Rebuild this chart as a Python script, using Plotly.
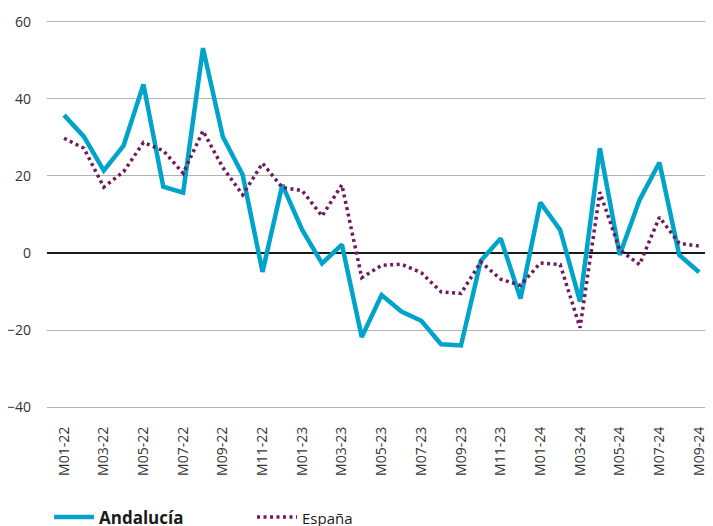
import plotly.graph_objects as go

months = [f"M{m:02d}-{y}" for y in ("22", "23", "24") for m in range(1, 13)][:33]

andalucia = [35.8, 30.2, 21.4, 27.9, 43.8, 17.2, 15.7, 53.2, 30.2, 20.3,
             -4.9, 17.7, 6.0, -2.7, 2.2, -21.8, -10.9, -15.2, -17.6, -23.7,
             -24.0, -2.0, 3.8, -11.8, 13.1, 6.0, -12.6, 27.2, -0.5, 13.8,
             23.5, -0.5, -5.0]

espana = [29.8, 27.2, 17.1, 21.1, 28.7, 26.6, 20.7, 31.7, 22.2, 15.1,
          23.3, 17.0, 16.2, 9.6, 17.7, -6.4, -3.2, -2.9, -5.1, -10.1,
          -10.5, -2.3, -6.8, -8.4, -2.6, -3.0, -19.4, 15.8, 0.8, -3.0,
          9.3, 2.5, 1.8]

tick_labels = months[::2]
y_ticks = [-40, -20, 0, 20, 40, 60]

BLUE = "#00A3CA"
PURPLE = "#6E1B5E"

fig = go.Figure()
fig.add_trace(go.Scatter(
    x=months, y=andalucia, mode="lines", name="<b>Andalucía</b>",
    line=dict(color=BLUE, width=4.5),
))
fig.add_trace(go.Scatter(
    x=months, y=espana, mode="lines", name="<span style='font-size:15px'>España</span>",
    line=dict(color=PURPLE, width=3.5, dash="3px,3.5px"),
))

# page body adds an 8px offset; figure is sized so that it fills the window
fig.update_layout(
    width=705, height=518,
    margin=dict(l=39, r=0, t=12, b=117, autoexpand=False),
    paper_bgcolor="white", plot_bgcolor="white",
    font=dict(family="Open Sans, Noto Sans, sans-serif", size=14, color="#333333"),
    showlegend=True,
    legend=dict(orientation="h", x=0.003, xanchor="left", y=-0.279, yanchor="middle",
                font=dict(size=17, color="#1a1a1a"), entrywidth=148, itemwidth=40,
                traceorder="normal"),
    xaxis=dict(
        type="category", categoryorder="array", categoryarray=months,
        range=[-0.86, 32.7], tickmode="array", tickvals=tick_labels,
        ticktext=tick_labels, tickangle=-90, showgrid=False, showline=False,
        zeroline=False, ticks="", ticklabelstandoff=14, automargin=False,
        tickfont=dict(size=14, color="#333333"),
    ),
    yaxis=dict(
        range=[-40.5, 60.5], tickvals=y_ticks, showgrid=True,
        gridcolor="#b3b3b3", gridwidth=1, zeroline=True, zerolinecolor="#1a1a1a",
        zerolinewidth=1.5, showline=False, ticks="", ticklabelstandoff=15,
        automargin=False, tickfont=dict(size=14, color="#333333"),
    ),
)

fig.write_html("out.html")
